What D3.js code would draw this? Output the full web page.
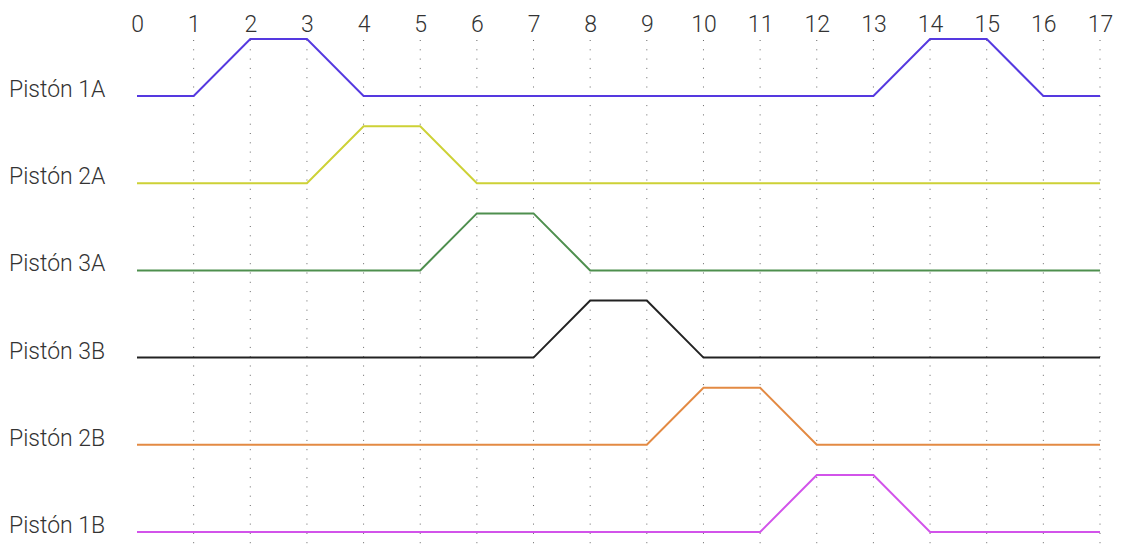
<!DOCTYPE html>
<html>
<head>
<meta charset="utf-8">
<script src="https://cdn.jsdelivr.net/npm/d3@7"></script>
<style>
  html, body { margin: 0; padding: 0; background: #fff; }
  svg { display: block; }
  text { font-family: Roboto, "Open Sans", sans-serif; font-weight: 300; fill: #333; }
</style>
</head>
<body>
<svg id="chart" width="1122" height="550"></svg>
<script>
const steps = d3.range(0, 18);
const tickLabels = steps.map(String);
const pistons = ["Pistón 1A", "Pistón 2A", "Pistón 3A", "Pistón 3B", "Pistón 2B", "Pistón 1B"];
const colors = ["#5539e0", "#cdd136", "#4e8f4e", "#222222", "#e38a43", "#d253ea"];
const piston1A = [0,0,1,1,0,0,0,0,0,0,0,0,0,0,1,1,0,0];
const piston2A = [0,0,0,0,1,1,0,0,0,0,0,0,0,0,0,0,0,0];
const piston3A = [0,0,0,0,0,0,1,1,0,0,0,0,0,0,0,0,0,0];
const piston3B = [0,0,0,0,0,0,0,0,1,1,0,0,0,0,0,0,0,0];
const piston2B = [0,0,0,0,0,0,0,0,0,0,1,1,0,0,0,0,0,0];
const piston1B = [0,0,0,0,0,0,0,0,0,0,0,0,1,1,0,0,0,0];
const series = [piston1A, piston2A, piston3A, piston3B, piston2B, piston1B];

const svg = d3.select("#chart");
const x = d3.scaleLinear().domain([0, 17]).range([137, 1100]);
const row = d3.scalePoint().domain(pistons).range([96, 532]);
const amp = d3.scaleLinear().domain([0, 1]).range([0, -57]);

// grid
svg.append("g").selectAll("line")
  .data(steps.filter(d => d > 0))
  .join("line")
  .attr("x1", d => x(d)).attr("x2", d => x(d))
  .attr("y1", 40).attr("y2", 550)
  .attr("stroke", "#666")
  .attr("stroke-width", 1)
  .attr("stroke-dasharray", "1,8.3");

// top axis
const axis = d3.axisTop(x).tickValues(steps).tickFormat((d, i) => tickLabels[i]).tickSize(0).tickPadding(0);
const ax = svg.append("g").attr("transform", "translate(0,32)").call(axis);
ax.select(".domain").remove();
ax.selectAll("text").attr("font-size", 23).attr("font-family", "Roboto, sans-serif").attr("font-weight", 300).attr("fill", "#333").attr("dy", 0);

// labels
svg.append("g").selectAll("text")
  .data(pistons)
  .join("text")
  .attr("x", 9)
  .attr("y", d => row(d) + 1)
  .attr("font-size", 23)
  .text(d => d);

// lines
const line = d3.line().x((d, i) => x(steps[i]));
series.forEach((s, k) => {
  const base = row(pistons[k]);
  svg.append("path")
    .attr("d", line.y(d => base + amp(d))(s))
    .attr("fill", "none")
    .attr("stroke", colors[k])
    .attr("stroke-width", 2);
});
</script>
</body>
</html>
